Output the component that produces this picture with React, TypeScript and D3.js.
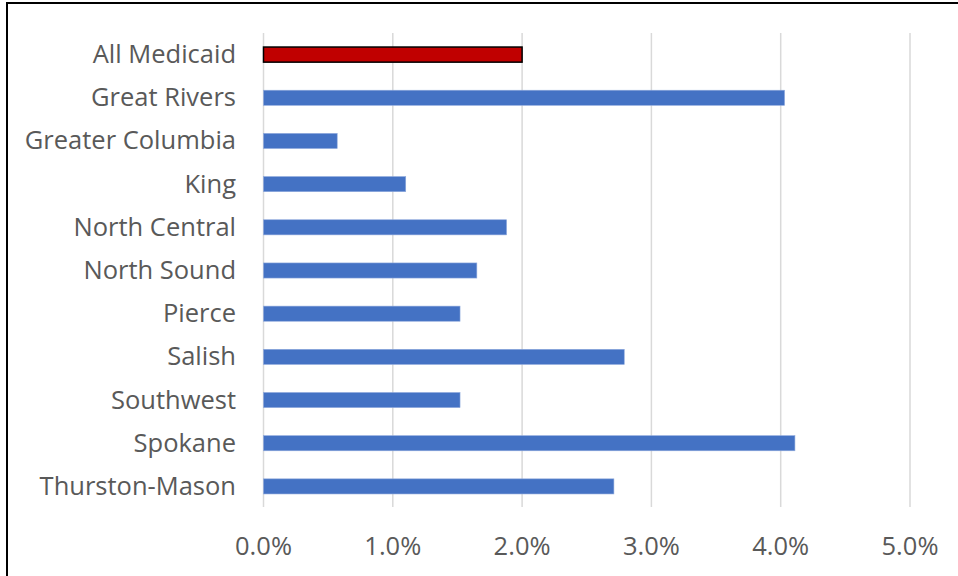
import React from "react";
import * as d3 from "d3";

const categories = [
  "All Medicaid",
  "Great Rivers",
  "Greater Columbia",
  "King",
  "North Central",
  "North Sound",
  "Pierce",
  "Salish",
  "Southwest",
  "Spokane",
  "Thurston-Mason",
];
const values = [0.02, 0.0403, 0.0057, 0.011, 0.0188, 0.0165, 0.0152, 0.0279, 0.0152, 0.0411, 0.0271];
const ticks = [0, 0.01, 0.02, 0.03, 0.04, 0.05];

const W = 958;
const H = 576;
const FONT = "'Open Sans', 'Noto Sans', sans-serif";

export default function App() {
  const x = d3.scaleLinear().domain([0, 0.05]).range([263.5, 910]);
  const y = d3.scaleBand<string>().domain(categories).range([33, 508]).paddingInner(0.65).paddingOuter(0.325);
  const fmt = d3.format(".1%");
  return (
    <svg width={W} height={H} style={{ position: "absolute", left: 0, top: 0, background: "#fff" }}>
      <rect x={7} y={3} width={W + 10} height={H + 10} fill="#fff" stroke="#000" strokeWidth={2} />
      {ticks.map((t) => (
        <line key={t} x1={x(t)} x2={x(t)} y1={33} y2={507} stroke="#d9d9d9" strokeWidth={1.5} />
      ))}
      {categories.map((c, i) => {
        const first = i === 0;
        return (
          <rect
            key={c}
            x={x(0)}
            y={y(c)!}
            width={x(values[i]) - x(0)}
            height={y.bandwidth()}
            fill={first ? "#C00000" : "#4472C4"}
            stroke={first ? "#000" : "#8fa9dc"}
            strokeWidth={first ? 1.5 : 0.6}
          />
        );
      })}
      {categories.map((c) => (
        <text
          key={c}
          x={236}
          y={y(c)! + y.bandwidth() / 2 + 8.5}
          textAnchor="end"
          fontFamily={FONT}
          fontSize={25.5}
          fill="#595959"
        >
          {c}
        </text>
      ))}
      {ticks.map((t) => (
        <text key={t} x={x(t)} y={555} textAnchor="middle" fontFamily={FONT} fontSize={25.5} fill="#595959">
          {fmt(t)}
        </text>
      ))}
    </svg>
  );
}
